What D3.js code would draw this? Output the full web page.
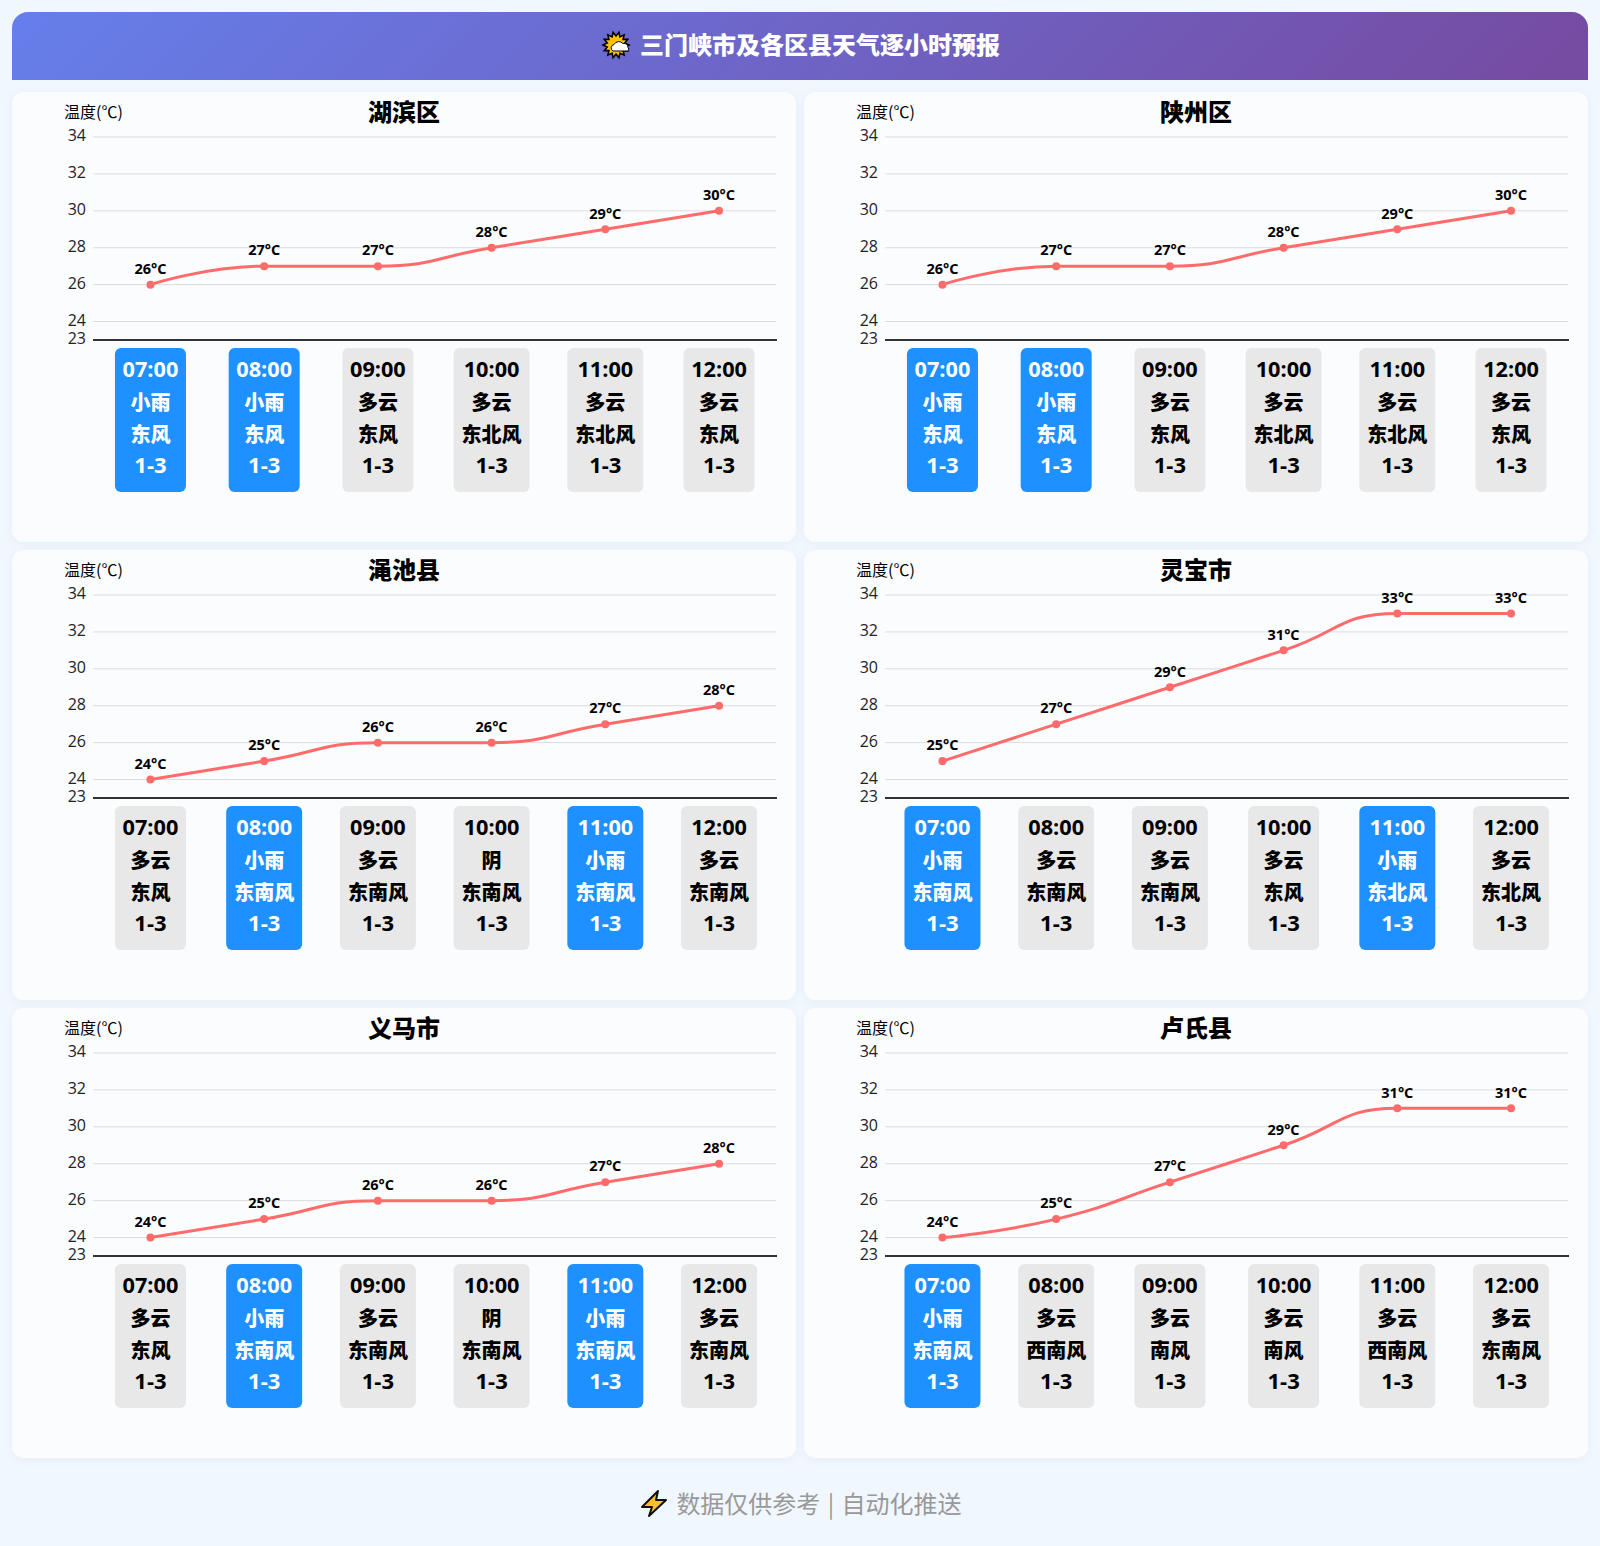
<!DOCTYPE html>
<html><head><meta charset="utf-8">
<style>html,body{margin:0;padding:0;background:#f0f7ff}svg{display:block}</style>
<script src="https://cdn.jsdelivr.net/npm/d3@7/dist/d3.min.js"></script>
</head><body><svg id="c" width="1600" height="1546"></svg>
<script>
const pageTitle="三门峡市及各区县天气逐小时预报";
const footerText="数据仅供参考 | 自动化推送";
const hours=["07:00","08:00","09:00","10:00","11:00","12:00"];
const yTicks=[34,32,30,28,26,24,23];
const districts=["湖滨区","陕州区","渑池县","灵宝市","义马市","卢氏县"];
const temps=[[26,27,27,28,29,30],[26,27,27,28,29,30],[24,25,26,26,27,28],[25,27,29,31,33,33],[24,25,26,26,27,28],[24,25,27,29,31,31]];
const weather=[
["小雨","小雨","多云","多云","多云","多云"],
["小雨","小雨","多云","多云","多云","多云"],
["多云","小雨","多云","阴","小雨","多云"],
["小雨","多云","多云","多云","小雨","多云"],
["多云","小雨","多云","阴","小雨","多云"],
["小雨","多云","多云","多云","多云","多云"]];
const winds=[
["东风","东风","东风","东北风","东北风","东风"],
["东风","东风","东风","东北风","东北风","东风"],
["东风","东南风","东南风","东南风","东南风","东南风"],
["东南风","东南风","东南风","东风","东北风","东北风"],
["东风","东南风","东南风","东南风","东南风","东南风"],
["东南风","西南风","南风","南风","西南风","东南风"]];
const windForce="1-3";

const CJK='"Noto Sans CJK SC"';
const LAT='"Open Sans","Noto Sans CJK SC"';
const svg=d3.select("#c");
const defs=svg.append("defs");
const g=defs.append("linearGradient").attr("id","hg").attr("gradientUnits","userSpaceOnUse")
 .attr("x1",400).attr("y1",-350).attr("x2",1200).attr("y2",442);
g.append("stop").attr("offset",0).attr("stop-color","#667eea");
g.append("stop").attr("offset",1).attr("stop-color","#764ba2");
const f=defs.append("filter").attr("id","sh").attr("x","-5%").attr("y","-5%").attr("width","110%").attr("height","110%");
f.append("feDropShadow").attr("dx",0).attr("dy",2).attr("stdDeviation",4).attr("flood-color","#000").attr("flood-opacity",0.04);

// Smooth curve with neighbour-clamped control points (line-chart "smooth" look)
function smoothCurve(context){
 let pts=[];
 return {
  areaStart(){},areaEnd(){},
  lineStart(){pts=[];},
  point(x,y){pts.push([+x,+y]);},
  lineEnd(){
   const n=pts.length,s=0.5;
   const cpIn=[],cpOut=[];
   pts.forEach((p,i)=>{
    if(i===0||i===n-1){cpIn[i]=p;cpOut[i]=p;return;}
    const a=pts[i-1],b=pts[i+1];
    const lp=Math.hypot(p[0]-a[0],p[1]-a[1]),ln=Math.hypot(b[0]-p[0],b[1]-p[1]);
    const r=ln/(ln+lp);
    const vx=(b[0]-a[0])*s,vy=(b[1]-a[1])*s;
    let ny=p[1]+vy*r;
    ny=Math.max(Math.min(ny,Math.max(b[1],p[1])),Math.min(b[1],p[1]));
    const nvy=ny-p[1];
    let py=p[1]-nvy*lp/ln;
    py=Math.max(Math.min(py,Math.max(a[1],p[1])),Math.min(a[1],p[1]));
    const pvy=p[1]-py;
    ny=p[1]+pvy*ln/lp;
    cpOut[i]=[p[0]+vx*r,ny];
    cpIn[i]=[p[0]-vx*(1-r),py];
   });
   pts.forEach((p,i)=>{
    if(i===0)context.moveTo(p[0],p[1]);
    else context.bezierCurveTo(cpOut[i-1][0],cpOut[i-1][1],cpIn[i][0],cpIn[i][1],p[0],p[1]);
   });
  }
 };
}

svg.append("path").attr("fill","url(#hg)")
 .attr("d",(()=>{const p=d3.path(),x=12,y=12,w=1576,h=68,r=16;p.moveTo(x,y+h);p.lineTo(x,y+r);p.arcTo(x,y,x+r,y,r);p.lineTo(x+w-r,y);p.arcTo(x+w,y,x+w,y+r,r);p.lineTo(x+w,y+h);p.closePath();return p.toString();})());
svg.append("text").attr("x",820).attr("y",45).attr("dy","0.36em").attr("text-anchor","middle")
 .attr("font-family",CJK).attr("font-weight",900).attr("font-size",24).attr("fill","#fff").text(pageTitle);

// sun-behind-cloud icon
const sun=svg.append("g").attr("transform","translate(616,45)");
const rays=d3.range(28).map(i=>{const a=i/28*2*Math.PI,r=i%2?9:13;return [r*Math.cos(a),r*Math.sin(a)];});
sun.append("path").attr("d",d3.line()(rays)+"Z").attr("fill","#ffc400").attr("stroke","#000").attr("stroke-width",1.6);
sun.append("path").attr("d","M-3 6a3.5 3.5 0 0 1 1-6.5a5.5 5.5 0 0 1 9-1a4 4 0 0 1 5 4a2.5 2.5 0 0 1 0 3.5Z").attr("fill","#fff").attr("stroke","#000").attr("stroke-width",1);

// footer
const bolt=svg.append("g").attr("transform","translate(654,1504)");
bolt.append("path").attr("d","M4-13L-12 3H-2L-5 12L12-4H2Z").attr("fill","#fdbf2d").attr("stroke","#111").attr("stroke-width",2).attr("stroke-linejoin","round");
svg.append("text").attr("x",819).attr("y",1504).attr("dy","0.36em").attr("text-anchor","middle")
 .attr("font-family",CJK).attr("font-size",24).attr("word-spacing",2).attr("fill","#999").text(footerText);

const cardW=784,cardH=450;
const y=d3.scaleLinear().domain([23,34]).range([340,137]);
const x=d3.scaleBand().domain(hours).range([93.6,775.9]);
const line=d3.line().x(d=>x(d.h)+x.bandwidth()/2).y(d=>y(d.t)).curve(smoothCurve);

districts.forEach((name,i)=>{
 const c=svg.append("g").attr("transform",`translate(${12+(i%2)*792},${Math.floor(i/2)*458})`);
 c.append("rect").attr("x",0).attr("y",92).attr("width",cardW).attr("height",cardH).attr("rx",12).attr("fill","#fbfcfe").attr("filter","url(#sh)");
 const p=c.append("g").attr("transform","translate(-12,0)");
 p.append("text").attr("x",404).attr("y",112).attr("dy","0.36em").attr("text-anchor","middle").attr("font-family",CJK).attr("font-weight",900).attr("font-size",24).attr("fill","#000").text(name);
 p.append("text").attr("x",93.5).attr("y",112).attr("dy","0.36em").attr("text-anchor","middle").attr("font-family",CJK).attr("font-weight",400).attr("font-size",16).attr("fill","#000").text("温度(℃)");
 const ax=p.append("g").attr("transform","translate(93,-1.4)").call(d3.axisLeft(y).tickValues(yTicks).tickSize(0).tickPadding(7).tickFormat(d3.format("d")));
 ax.select(".domain").remove();
 ax.selectAll("text").attr("font-family",'"Open Sans"').attr("font-weight",400).attr("font-size",16).attr("fill","#222");
 p.append("g").selectAll("line").data(yTicks.filter(t=>t!==23)).join("line")
  .attr("x1",93).attr("x2",776).attr("y1",d=>y(d)).attr("y2",d=>y(d)).attr("stroke","#dcdcdc").attr("stroke-width",1);
 p.append("line").attr("x1",93).attr("x2",777).attr("y1",y(23)).attr("y2",y(23)).attr("stroke","#333").attr("stroke-width",2);
 const pts=hours.map((h,k)=>({h,t:temps[i][k]}));
 p.append("path").datum(pts).attr("d",line).attr("fill","none").attr("stroke","#ff6b6b").attr("stroke-width",3);
 p.append("g").selectAll("circle").data(pts).join("circle").attr("cx",d=>x(d.h)+x.bandwidth()/2).attr("cy",d=>y(d.t)).attr("r",4).attr("fill","#ff6b6b");
 p.append("g").selectAll("text").data(pts).join("text").attr("x",d=>x(d.h)+x.bandwidth()/2).attr("y",d=>y(d.t)-10.7).attr("text-anchor","middle")
  .attr("font-family",LAT).attr("font-weight",700).attr("font-size",14.5).attr("fill","#000").text(d=>d.t+"°C");
 hours.forEach((h,k)=>{
  const cx=x(h)+x.bandwidth()/2, w=winds[i][k].length===3?76:71, rain=weather[i][k]==="小雨";
  const col=rain?"#fff":"#000";
  p.append("rect").attr("x",cx-w/2).attr("y",348).attr("width",w).attr("height",144).attr("rx",6).attr("fill",rain?"#1e90ff":"#e8e8e8");
  [[h,LAT,21.7,369.5,700],[weather[i][k],CJK,20,403,900],[winds[i][k],CJK,20,434.5,900],[windForce,LAT,22,465.5,700]].forEach(r=>{
   p.append("text").attr("x",cx).attr("y",r[3]).attr("dy","0.36em").attr("text-anchor","middle").attr("font-family",r[1]).attr("font-weight",r[4]).attr("font-size",r[2]).attr("fill",col).text(r[0]);
  });
 });
});
</script></body></html>
